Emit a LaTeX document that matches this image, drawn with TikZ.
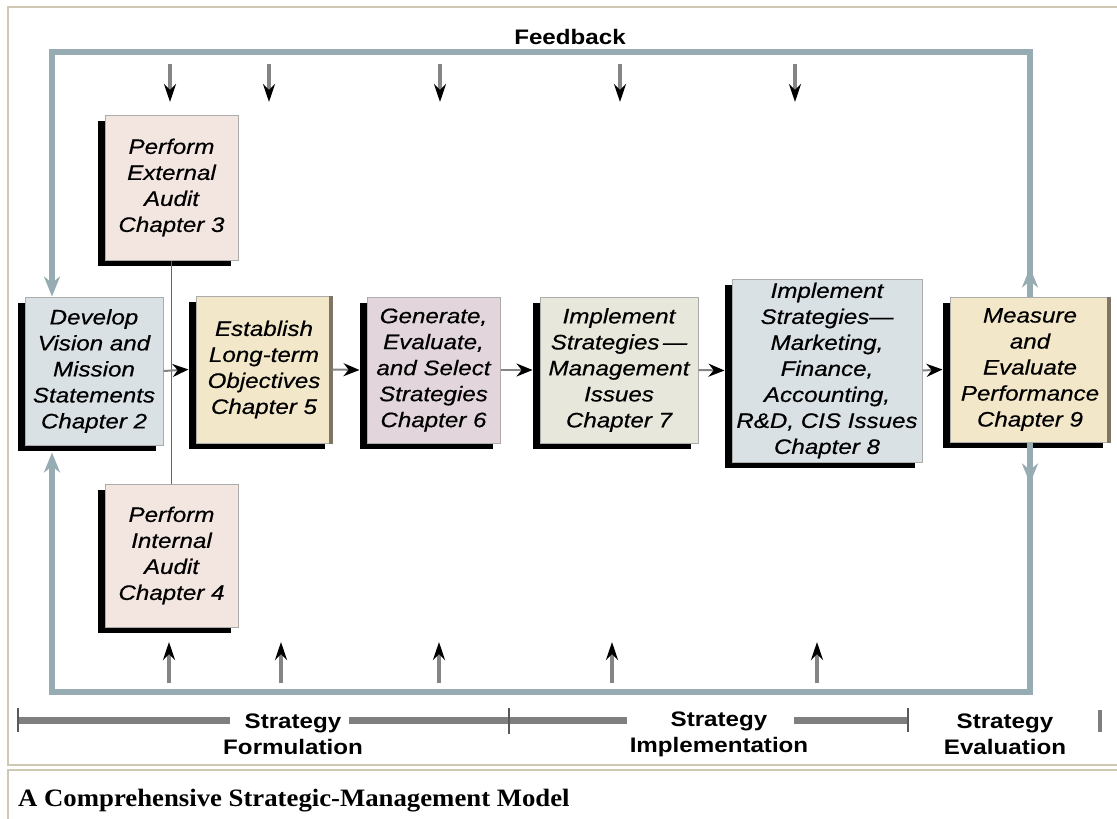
\documentclass[tikz,border=0pt]{standalone}
\usepackage{fontspec}
\setmainfont{Liberation Serif}
\newfontfamily\boxfont[FakeStretch=1.15,FakeBold=0.5]{Liberation Sans}
\newfontfamily\phasefont[FakeStretch=1.15]{Liberation Sans}
\newfontfamily\capfont[FakeStretch=1.07]{Liberation Serif}
\usetikzlibrary{arrows.meta,shadows,calc}
\definecolor{framec}{HTML}{CFC9B4}
\definecolor{loopc}{HTML}{97ACB2}
\definecolor{pinkc}{HTML}{F3E6E1}
\definecolor{bluec}{HTML}{D9E1E4}
\definecolor{tanc}{HTML}{F3E7C9}
\definecolor{mauvec}{HTML}{E2D6DC}
\definecolor{grayc}{HTML}{E7E7DB}
\definecolor{edgec}{HTML}{7E7565}
\definecolor{shaftc}{HTML}{858585}
\definecolor{barc}{HTML}{7F7F7F}
\tikzset{
  stage/.style={draw=gray!65, line width=1pt, align=center, inner sep=0pt,
    font=\boxfont\itshape\fontsize{21}{26}\selectfont,
    general shadow={shadow xshift=-7pt, shadow yshift=-6pt, fill=black}},
  flow/.style={draw=shaftc, line width=2pt, -{Stealth[length=16pt,width=13pt,color=black]}},
  input/.style={draw=shaftc, line width=4pt, -{Stealth[length=18pt,width=12pt,color=black]}},
  loopline/.style={draw=loopc, line width=6pt},
  looparrow/.style={draw=loopc, line width=6pt, -{Stealth[length=20pt,width=16pt,color=loopc]}},
  bar/.style={draw=barc, line width=7pt},
  tick/.style={draw=barc!70!black, line width=2pt},
  phase/.style={font=\phasefont\bfseries\fontsize{21}{26}\selectfont, align=center, inner sep=0pt},
}
\begin{document}
\begin{tikzpicture}[x=1pt,y=-1pt]
\useasboundingbox (0,0) rectangle (1117,819);
\fill[white] (0,0) rectangle (1117,819);
% page frames
\draw[framec, line width=2pt] (1117,7) -- (8,7) -- (8,765) -- (1117,765);
\draw[framec, line width=2pt] (1117,770) -- (8,770) -- (8,819);

% stages
\node[stage, fill=pinkc, minimum width=133pt, minimum height=145pt] (ext) at (171.5,187.5) {Perform\\External\\Audit\\Chapter 3};
\node[stage, fill=pinkc, minimum width=133pt, minimum height=143pt] (int) at (171.5,555.5) {Perform\\Internal\\Audit\\Chapter 4};
\draw[draw=gray!80!black, line width=1.5pt] (ext.south) -- (int.north);
\node[stage, fill=bluec, minimum width=138pt, minimum height=148pt] (dev) at (94,371) {Develop\\Vision and\\Mission\\Statements\\Chapter 2};
\node[stage, fill=tanc, minimum width=136pt, minimum height=147pt] (est) at (264,369.5) {Establish\\Long-term\\Objectives\\Chapter 5};
\node[stage, fill=mauvec, minimum width=133pt, minimum height=146pt] (gen) at (433.5,370) {Generate,\\Evaluate,\\and Select\\Strategies\\Chapter 6};
\node[stage, fill=grayc, minimum width=158pt, minimum height=146pt] (imp7) at (619,370) {Implement\\Strategies\,—\\Management\\Issues\\Chapter 7};
\node[stage, fill=bluec, minimum width=190pt, minimum height=183pt] (imp8) at (827,370.5) {Implement\\Strategies—\\Marketing,\\Finance,\\Accounting,\\R\&D, CIS Issues\\Chapter 8};
\node[stage, fill=tanc, minimum width=160pt, minimum height=145pt] (meas) at (1030,369.5) {Measure\\and\\Evaluate\\Performance\\Chapter 9};
\draw[edgec, line width=4pt] ([xshift=-2pt]est.north east) -- ([xshift=-2pt]est.south east);
\draw[edgec, line width=4pt] ([xshift=-2pt]meas.north east) -- ([xshift=-2pt]meas.south east);

% flow arrows
\draw[flow] (dev.east) -- ([xshift=-7pt]est.west);
\draw[flow] (est.east) -- ([xshift=-7pt]gen.west);
\draw[flow] (gen.east) -- ([xshift=-7pt]imp7.west);
\draw[flow] (imp7.east) -- ([xshift=-7pt]imp8.west);
\draw[flow] (imp8.east) -- ([xshift=-7pt]meas.west);

% feedback loop
\coordinate (tl) at (52,52);
\coordinate (tr) at (1029,52);
\coordinate (bl) at (52,692);
\coordinate (br) at (1029,692);
\coordinate (devb) at ($(dev.south)+(0,7)$);
\draw[loopline] (meas.north) -- (meas.north |- tr) -- (tl) -- ++(0,200);
\draw[looparrow] (tl) -- (tl |- dev.north);
\draw[loopline] (meas.south) -- (meas.south |- br) -- (bl) -- ++(0,-150);
\draw[looparrow] (bl) -- (bl |- devb);
\draw[looparrow] (meas.north) -- ([yshift=29pt]meas.north);
\draw[looparrow] (meas.south) -- ([yshift=-41pt]meas.south);
\node[phase, anchor=base] (fb) at (570,44) {Feedback};

% external inputs (top) and internal inputs (bottom)
\foreach \x [count=\i] in {170,269,440,620,795} {
  \coordinate (ta\i) at (\x,64);
  \coordinate (tb\i) at (\x,102);
  \draw[input] (ta\i) -- (tb\i);
}
\foreach \x [count=\i] in {169,281,439,612,817} {
  \coordinate (ba\i) at (\x,683);
  \coordinate (bb\i) at (\x,642);
  \draw[input] (ba\i) -- (bb\i);
}

% phase timeline
\node[phase] (pf) at (293,734) {Strategy\\Formulation};
\node[phase] (pi) at (719,734) {Strategy\\Implementation};
\node[phase] (pe) at (1005,734) {Strategy\\Evaluation};
\coordinate (k0) at (18,720);
\coordinate (k1) at (509,720);
\coordinate (k2) at (908,720);
\coordinate (k3) at (1100,720);
\draw[bar] (k0) -- (230,720);
\draw[bar] (349,720) -- (k1) -- (627,720);
\draw[bar] (794,720) -- (k2);
\draw[tick] ([yshift=12pt]k0) -- ([yshift=-12pt]k0);
\draw[tick] ([yshift=12pt]k1) -- ([yshift=-14pt]k1);
\draw[tick] ([yshift=12pt]k2) -- ([yshift=-12pt]k2);
\draw[barc, line width=4pt] ([yshift=10pt]k3) -- ([yshift=-12pt]k3);

% caption
\node[font=\capfont\bfseries\fontsize{25}{28}\selectfont, anchor=base west, inner sep=0pt] (cap) at (18,806) {A Comprehensive Strategic-Management Model};
\end{tikzpicture}
\end{document}
